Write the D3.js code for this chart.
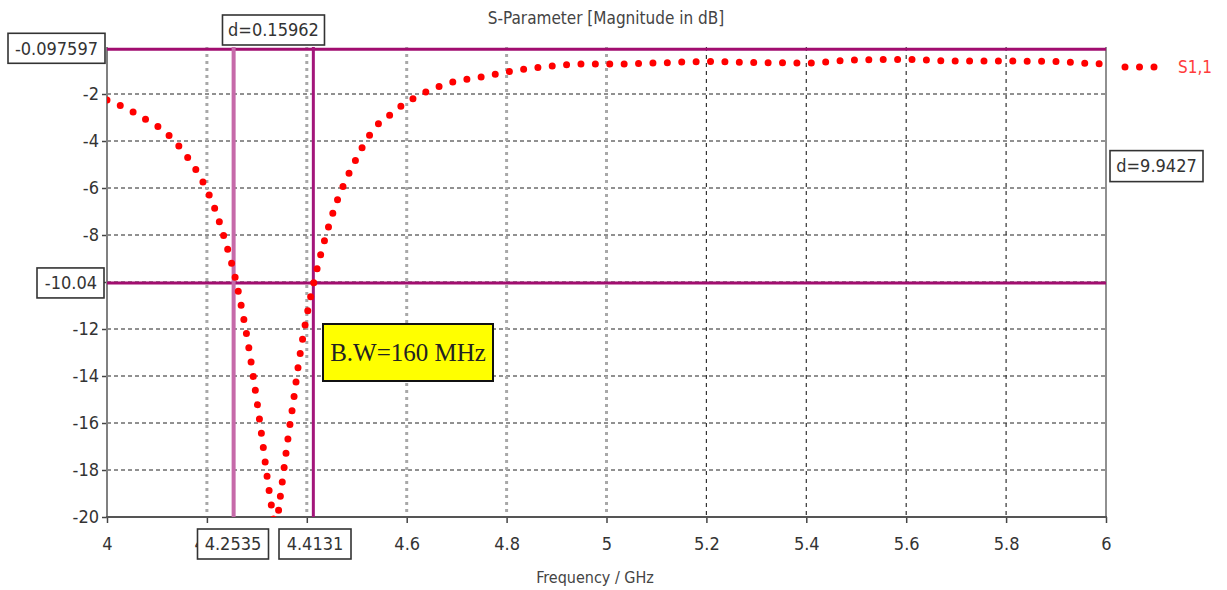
<!DOCTYPE html>
<html>
<head>
<meta charset="utf-8">
<script src="https://cdn.jsdelivr.net/npm/d3@7"></script>
<style>
  html, body { margin: 0; padding: 0; background: #fff; }
  svg { display: block; }
  text { font-family: 'DejaVu Sans Condensed', 'DejaVu Sans', sans-serif; font-stretch: condensed; }
</style>
</head>
<body>
<svg id="chart" width="1227" height="590"></svg>
<script>
// S1,1 readings (GHz, dB)
var freqGHz = [4.000, 4.030, 4.075, 4.120, 4.158, 4.192, 4.218, 4.238, 4.256, 4.270,
  4.282, 4.293, 4.303, 4.312, 4.321, 4.331, 4.338, 4.345, 4.354, 4.363,
  4.373, 4.382, 4.393, 4.406, 4.421, 4.438, 4.458, 4.484, 4.498, 4.522,
  4.551, 4.573, 4.595, 4.619, 4.643, 4.693, 4.749, 4.801, 4.855, 4.911,
  4.967, 5.025, 5.10, 5.20, 5.30, 5.40, 5.50, 5.60, 5.70, 5.80,
  5.90, 5.95, 6.00];
var s11dB = [-2.25, -2.52, -3.05, -3.68, -4.60, -5.74, -7.00, -8.35, -9.75, -11.15,
  -12.55, -14.05, -15.50, -16.90, -18.35, -19.75, -20.50, -19.45, -18.00, -16.55,
  -15.10, -13.70, -12.25, -10.80, -9.40, -8.05, -6.70, -5.40, -4.80, -3.87,
  -3.11, -2.81, -2.40, -2.13, -1.87, -1.49, -1.28, -1.06, -0.89, -0.77,
  -0.72, -0.72, -0.68, -0.62, -0.66, -0.68, -0.55, -0.53, -0.60, -0.60,
  -0.62, -0.68, -0.72];

var xTicks = [4, 4.2, 4.4, 4.6, 4.8, 5, 5.2, 5.4, 5.6, 5.8, 6];
var yTicks = [-2, -4, -6, -8, -10, -12, -14, -16, -18, -20];
// tick labels hidden under the marker boxes in the original
var hiddenX = [4.4];
var hiddenY = [-10];

// markers
var markerFreqs = [4.2535, 4.4131];
var markerFreqLabels = ['4.2535', '4.4131'];
var markerLevels = [-0.097597, -10.04];
var markerLevelLabels = ['-0.097597', '-10.04'];
var deltaFreqLabel = 'd=0.15962';
var deltaLevelLabel = 'd=9.9427';
var bandwidthLabel = 'B.W=160 MHz';
var seriesName = 'S1,1';

var margin = { left: 107, right: 121, top: 47, bottom: 73 };
var W = 1227, H = 590;

var svg = d3.select('#chart');
svg.append('rect').attr('width', W).attr('height', H).attr('fill', '#fff');

var x = d3.scaleLinear().domain([4, 6]).range([margin.left, W - margin.right]);
var y = d3.scaleLinear().domain([-20, 0]).range([H - margin.bottom, margin.top]);

var x0 = x.range()[0], x1 = x.range()[1];
var yTop = y.range()[1], yBot = y.range()[0];

// grid
var grid = svg.append('g');
grid.selectAll('.hg').data(yTicks.slice(0, -1)).enter().append('line')
  .attr('x1', x0).attr('x2', x1)
  .attr('y1', function (d) { return y(d); }).attr('y2', function (d) { return y(d); })
  .attr('stroke', '#222').attr('stroke-width', 1).attr('stroke-dasharray', '4 3');
grid.selectAll('.vg').data(xTicks.slice(1, -1)).enter().append('line')
  .attr('x1', function (d) { return x(d); }).attr('x2', function (d) { return x(d); })
  .attr('y1', yTop).attr('y2', yBot)
  .attr('stroke', function (d) { return d <= 5 ? '#a8a8a8' : '#333'; })
  .attr('stroke-width', function (d) { return d <= 5 ? 3 : 1.2; })
  .attr('stroke-dasharray', function (d) { return d <= 5 ? '3 4' : '4 4'; });

// axes
var fmt = function (d) { return String(+d.toFixed(1)); };
var xAxis = svg.append('g').attr('transform', 'translate(0,' + yBot + ')')
  .call(d3.axisBottom(x).tickValues(xTicks).tickSize(6).tickPadding(14)
    .tickFormat(function (d) { return hiddenX.indexOf(d) >= 0 ? '' : fmt(d); }));
var yAxis = svg.append('g').attr('transform', 'translate(' + x0 + ',0)')
  .call(d3.axisLeft(y).tickValues(yTicks).tickSize(5).tickPadding(3)
    .tickFormat(function (d) { return hiddenY.indexOf(d) >= 0 ? '' : fmt(d); }));
[xAxis, yAxis].forEach(function (g) {
  g.select('.domain').remove();
  g.selectAll('.tick line').attr('stroke', '#444').attr('stroke-width', 1.5);
  g.selectAll('.tick text').attr('fill', '#333').style('font-size', '18px')
    .style('font-family', "'DejaVu Sans Condensed', 'DejaVu Sans', sans-serif");
});

// frame
svg.append('line').attr('x1', x0).attr('x2', x0).attr('y1', yTop).attr('y2', yBot)
  .attr('stroke', '#808080').attr('stroke-width', 2);
svg.append('line').attr('x1', x1).attr('x2', x1).attr('y1', yTop).attr('y2', yBot)
  .attr('stroke', '#909090').attr('stroke-width', 2);
svg.append('line').attr('x1', x0 - 1).attr('x2', x1 + 1).attr('y1', yBot).attr('y2', yBot)
  .attr('stroke', '#555').attr('stroke-width', 2);

// curve
svg.append('clipPath').attr('id', 'plotClip').append('rect')
  .attr('x', x0).attr('y', yTop - 5).attr('width', x1 - x0 + 4).attr('height', yBot - yTop + 5);
var pts = freqGHz.map(function (f, i) { return [f, s11dB[i]]; });
var line = d3.line().x(function (d) { return x(d[0]); }).y(function (d) { return y(d[1]); })
  .curve(d3.curveMonotoneX);

// marker lines
svg.selectAll('.mh').data(markerLevels).enter().append('line')
  .attr('x1', x0).attr('x2', x1)
  .attr('y1', function (d) { return y(d); }).attr('y2', function (d) { return y(d); })
  .attr('stroke', '#a10d6f').attr('stroke-width', 3);
svg.selectAll('.mv').data(markerFreqs).enter().append('line')
  .attr('x1', function (d) { return x(d); }).attr('x2', function (d) { return x(d); })
  .attr('y1', yTop).attr('y2', yBot)
  .attr('stroke', function (d, i) { return i === 0 ? '#c66aa9' : '#a3157a'; })
  .attr('stroke-width', function (d, i) { return i === 0 ? 4 : 3; });

svg.append('path').datum(pts).attr('clip-path', 'url(#plotClip)')
  .attr('d', line).attr('fill', 'none').attr('stroke', '#ff0000')
  .attr('stroke-width', 7).attr('stroke-linecap', 'round').attr('stroke-dasharray', '0 14.4');

// legend
var legY = 67;
svg.append('path').attr('d', d3.line()([[1125, legY], [1155, legY]]))
  .attr('fill', 'none').attr('stroke', '#ff0000').attr('stroke-width', 7)
  .attr('stroke-linecap', 'round').attr('stroke-dasharray', '0 14.5');
svg.append('text').attr('x', 1178).attr('y', legY).attr('dy', '0.35em')
  .attr('fill', '#ff3b3b').style('font-size', '17px').text(seriesName);

// title and axis label
svg.append('text').attr('x', 606).attr('y', 18).attr('dy', '0.35em').attr('text-anchor', 'middle')
  .attr('fill', '#444').style('font-size', '17px').text('S-Parameter [Magnitude in dB]');
svg.append('text').attr('x', 595).attr('y', 577).attr('dy', '0.35em').attr('text-anchor', 'middle')
  .attr('fill', '#444').style('font-size', '16px').text('Frequency / GHz');

// boxed labels
function boxLabel(cx, cy, w, h, txt, anchor) {
  var g = svg.append('g');
  g.append('rect').attr('x', cx - w / 2).attr('y', cy - h / 2).attr('width', w).attr('height', h)
    .attr('fill', '#fff').attr('stroke', '#333').attr('stroke-width', 1.6);
  g.append('text').attr('x', anchor === 'end' ? cx + w / 2 - 7 : cx).attr('y', cy).attr('dy', '0.35em')
    .attr('text-anchor', anchor || 'middle').attr('fill', '#333').style('font-size', '18px').text(txt);
}
boxLabel(56.5, y(markerLevels[0]) - 1, 97, 30, markerLevelLabels[0], 'end');
boxLabel(70.5, y(markerLevels[1]), 67, 30, markerLevelLabels[1], 'end');
boxLabel(233, 544, 71, 30, markerFreqLabels[0]);
boxLabel(315, 544, 72, 30, markerFreqLabels[1]);
boxLabel((x(markerFreqs[0]) + x(markerFreqs[1])) / 2, 30, 102, 30, deltaFreqLabel);
boxLabel(1156.5, (y(markerLevels[0]) + y(markerLevels[1])) / 2, 93, 31, deltaLevelLabel);

// bandwidth annotation
var bw = svg.append('g');
bw.append('rect').attr('x', 323).attr('y', 324).attr('width', 170).attr('height', 57)
  .attr('fill', '#ffff00').attr('stroke', '#111').attr('stroke-width', 2);
bw.append('text').attr('x', 408).attr('y', 352).attr('dy', '0.35em').attr('text-anchor', 'middle')
  .attr('fill', '#222').style('font-family', "'Liberation Serif', 'Times New Roman', serif")
  .style('font-size', '25px').text(bandwidthLabel);
</script>
</body>
</html>
